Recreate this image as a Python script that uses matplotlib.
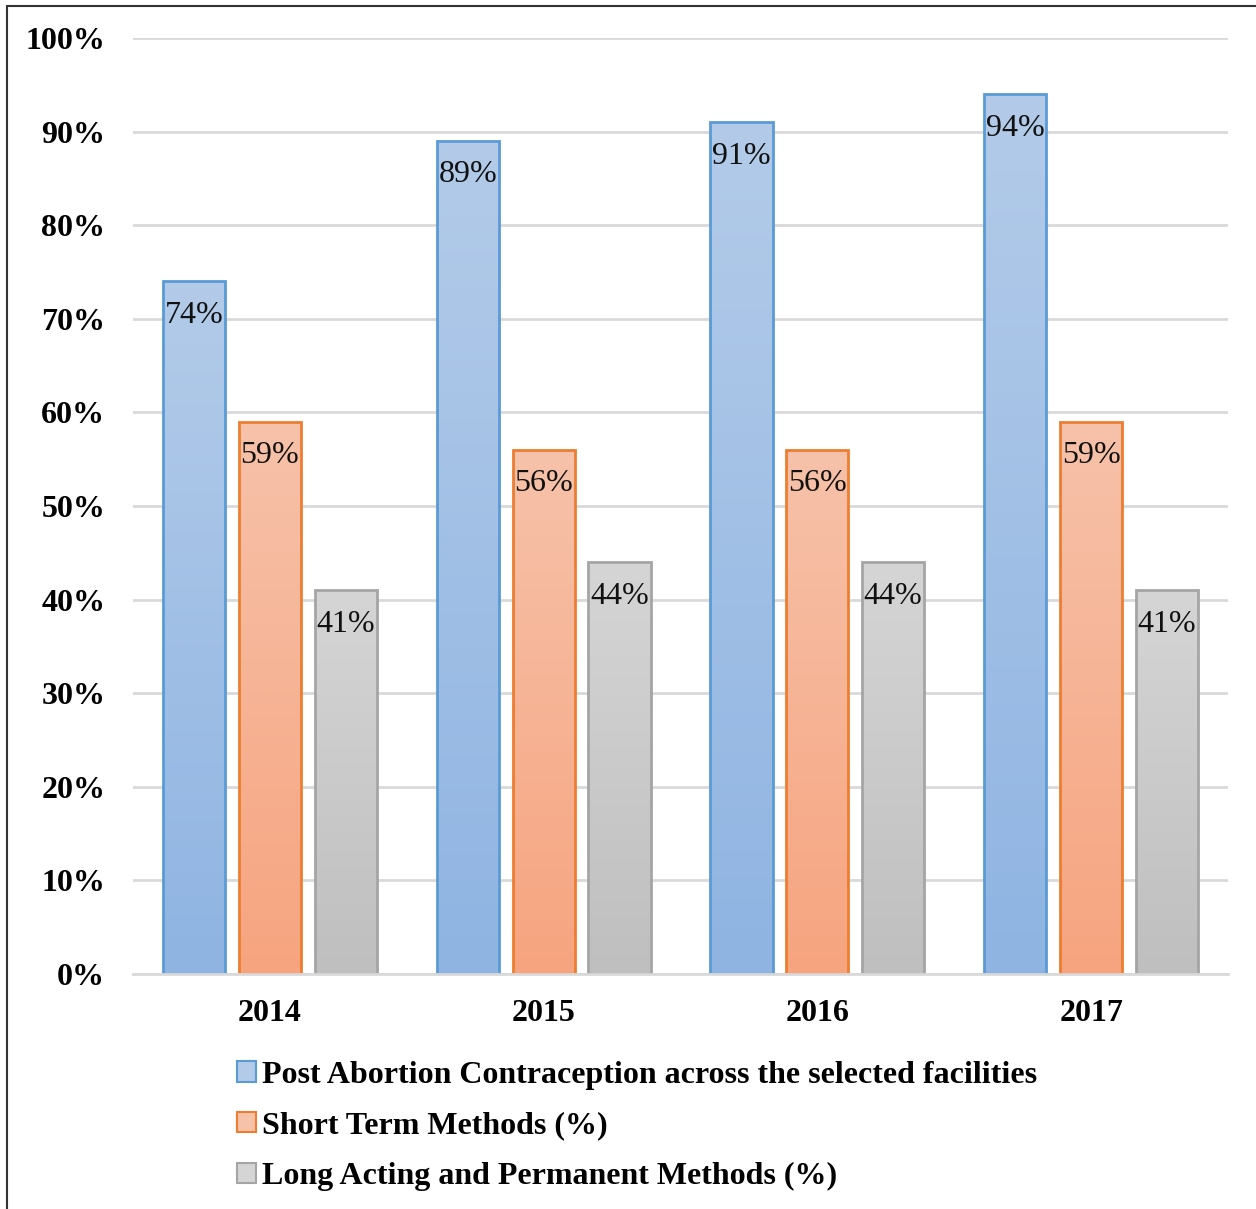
import numpy as np
import matplotlib
matplotlib.use('Agg')
import matplotlib.pyplot as plt
from matplotlib.patches import Patch, Rectangle
from matplotlib.colors import LinearSegmentedColormap

years = ['2014', '2015', '2016', '2017']
series_names = ['Post Abortion Contraception across the selected facilities',
                'Short Term Methods (%)',
                'Long Acting and Permanent Methods (%)']
pac = [74, 89, 91, 94]
short_term = [59, 56, 56, 59]
long_acting = [41, 44, 44, 41]

plt.rcParams['font.family'] = ['Liberation Serif', 'DejaVu Serif']

# top colour, bottom colour, edge colour
styles = [('#b3cbe9', '#8fb4e2', '#5b9bd5'),
          ('#f7c2aa', '#f6a47f', '#ed7d31'),
          ('#d5d5d5', '#bfbfbf', '#a5a5a5')]

fig = plt.figure(figsize=(12.56, 12.09), dpi=100)
ax = fig.add_axes([133/1256, 1-974/1209, 1095/1256, 936/1209])

x = np.arange(len(years))
width = 0.227
offsets = [-0.277, 0, 0.277]
grad = np.linspace(0, 1, 256).reshape(-1, 1)

for vals, off, (top, bot, edge) in zip([pac, short_term, long_acting], offsets, styles):
    cmap = LinearSegmentedColormap.from_list('g', [bot, top])
    bars = ax.bar(x + off, vals, width, facecolor='none', edgecolor=edge, linewidth=2, zorder=3)
    for b, v in zip(bars, vals):
        x0 = b.get_x()
        im = ax.imshow(grad, cmap=cmap, aspect='auto', origin='lower',
                       extent=[x0, x0 + b.get_width(), 0, v], zorder=2)
        im.set_clip_path(b)
        ax.annotate(f'{v}%', (b.get_x() + b.get_width()/2, v), xytext=(0, -14),
                    textcoords='offset points', ha='center', va='top', fontsize=23,
                    color='#111111', zorder=4)

ax.set_xlim(-0.5, 3.5)
ax.set_ylim(0, 100)
ax.set_yticks(range(0, 101, 10))
ax.set_yticklabels([f'{t}%' for t in range(0, 101, 10)], fontsize=23, fontweight='bold')
ax.set_xticks(x)
ax.set_xticklabels(years, fontsize=23, fontweight='bold')
ax.tick_params(axis='both', length=0)
ax.tick_params(axis='y', pad=20)
ax.tick_params(axis='x', pad=18)
ax.grid(axis='y', color='#d9d9d9', linewidth=2, zorder=0)
ax.set_axisbelow(True)
for s in ['top', 'right', 'left']:
    ax.spines[s].set_visible(False)
ax.spines['bottom'].set_color('#d9d9d9')
ax.spines['bottom'].set_linewidth(2)
ax.spines['bottom'].set_zorder(5)

handles = [Patch(facecolor=st[0], edgecolor=st[2], linewidth=1.5) for st in styles]
fig.legend(handles, series_names, loc='upper left', bbox_to_anchor=(224/1256, 1-1048/1209),
           frameon=False, prop={'size': 23, 'weight': 'bold'}, handlelength=0.6,
           handleheight=0.6, handletextpad=0.2, labelspacing=0.68, borderaxespad=0)

fig.patches.append(Rectangle((7/1256, -0.1), 1.2, 1 - 6/1209 + 0.1, transform=fig.transFigure,
                             fill=False, edgecolor='#333333', linewidth=1.5))

fig.savefig('out.png', dpi=100)
